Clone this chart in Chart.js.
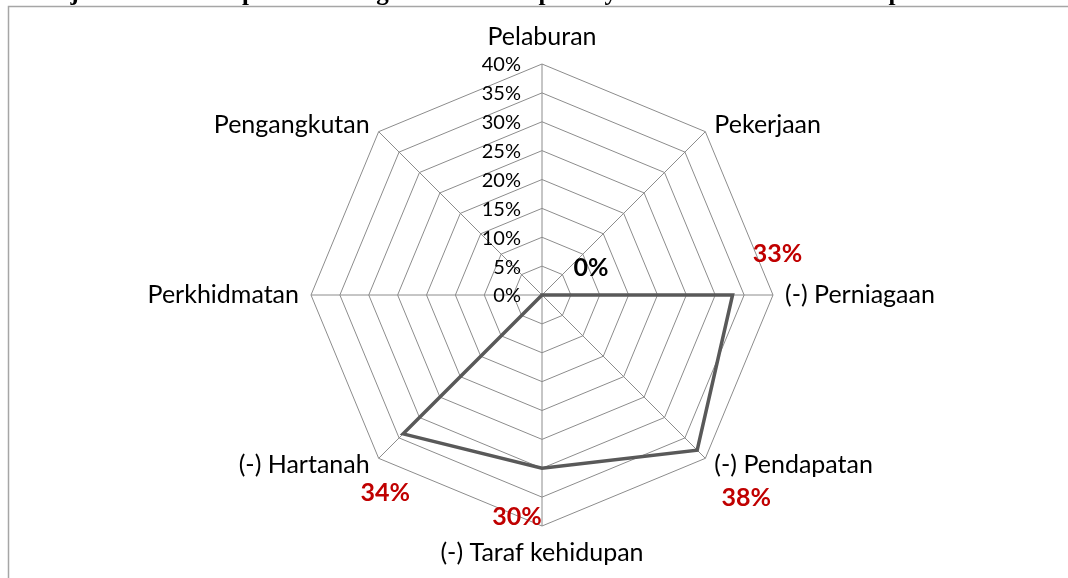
<!DOCTYPE html>
<html>
<head>
<meta charset="utf-8">
<script src="https://cdn.jsdelivr.net/npm/chart.js@4.4.1/dist/chart.umd.min.js"></script>
<style>
  html, body { margin: 0; padding: 0; background: #ffffff; }
  #wrap { position: relative; width: 1068px; height: 578px; overflow: hidden; }
  canvas { display: block; }
</style>
</head>
<body>
<div id="wrap"><canvas id="c" width="1068" height="578"></canvas></div>
<script>
// ---- data ----
const categories = ['Pelaburan', 'Pekerjaan', '(-) Perniagaan', '(-) Pendapatan', '(-) Taraf kehidupan', '(-) Hartanah', 'Perkhidmatan', 'Pengangkutan'];
const values = [0, 0, 33, 38, 30, 34, 0, 0];
const tickValues = [0, 5, 10, 15, 20, 25, 30, 35, 40];
const tickLabels = ['0%', '5%', '10%', '15%', '20%', '25%', '30%', '35%', '40%'];
const shownLabels = [null, '0%', '33%', '38%', '30%', '34%', null, null];
const titleText = 'Rajah 5: Kesan Impak Pembangunan Terhadap Masyarakat dan Komuniti Responden';

// ---- drawing helpers (styles / positions) ----
const FONT = 'Lato, "Open Sans", sans-serif';
const labelColors = [null, '#000000', '#c00000', '#c00000', '#c00000', '#c00000', null, null];
// pixel offsets of value labels relative to their data point
const labelOffsets = [null, [49, -27], [45, -41], [49, 48], [-25, 49], [-18, 59], null, null];

const overlay = {
  id: 'overlay',
  afterDraw(chart) {
    const ctx = chart.ctx;
    const s = chart.scales.r;
    ctx.save();
    // clipped title
    ctx.fillStyle = '#000';
    ctx.font = 'bold 25px "Liberation Serif", "DejaVu Serif", serif';
    ctx.textAlign = 'left';
    ctx.textBaseline = 'alphabetic';
    ctx.fillText(titleText, 40, 0);
    // frame (top and left border)
    ctx.fillStyle = '#fff';
    ctx.fillRect(0, 7, 1068, 2);
    ctx.strokeStyle = '#a6a6a6';
    ctx.lineWidth = 1.5;
    ctx.beginPath();
    ctx.moveTo(8.5, 578); ctx.lineTo(8.5, 6.5); ctx.lineTo(1068, 6.5);
    ctx.stroke();

    // tick labels on the left of the vertical axis
    ctx.font = '20px ' + FONT;
    ctx.textAlign = 'right';
    ctx.textBaseline = 'middle';
    ctx.fillStyle = '#000';
    tickValues.forEach((v, i) => {
      const d = s.getDistanceFromCenterForValue(v);
      ctx.fillText(tickLabels[i], s.xCenter - 21, s.yCenter - d + 1);
    });

    // category labels
    ctx.font = '25px ' + FONT;
    categories.forEach((c, i) => {
      const p = s.getPointPosition(i, s.drawingArea);
      const ang = p.angle; // radians, 0 = right
      const cx = Math.cos(ang), sy = Math.sin(ang);
      let x = p.x, y = p.y, align = 'center';
      if (Math.abs(cx) < 0.1) {
        y += sy < 0 ? -27 : 27;
      } else if (Math.abs(sy) < 0.1) {
        align = cx > 0 ? 'left' : 'right';
        x += cx > 0 ? 12 : -12;
      } else {
        align = cx > 0 ? 'left' : 'right';
        x += cx > 0 ? 9 : -9;
        y += sy < 0 ? -7 : 7;
      }
      ctx.textAlign = align;
      ctx.textBaseline = 'middle';
      ctx.fillText(c, x, y);
    });

    // value labels
    ctx.font = 'bold 25px ' + FONT;
    ctx.textAlign = 'center';
    ctx.textBaseline = 'middle';
    shownLabels.forEach((t, i) => {
      if (!t) return;
      const p = s.getPointPosition(i, s.getDistanceFromCenterForValue(values[i]));
      ctx.fillStyle = labelColors[i];
      ctx.fillText(t, p.x + labelOffsets[i][0], p.y + labelOffsets[i][1]);
    });
    ctx.restore();
  }
};

new Chart(document.getElementById('c'), {
  type: 'radar',
  data: {
    labels: categories,
    datasets: [{
      data: values,
      borderColor: '#595959',
      borderWidth: 3.5,
      fill: false,
      pointRadius: 0,
      pointHoverRadius: 0,
      tension: 0
    }]
  },
  options: {
    responsive: false,
    animation: false,
    devicePixelRatio: 1,
    layout: { padding: { top: 64, bottom: 52, left: 100, right: 84 } },
    plugins: { legend: { display: false }, tooltip: { enabled: false } },
    elements: { line: { borderJoinStyle: 'miter' } },
    scales: {
      r: {
        min: 0,
        max: 40,
        ticks: { display: false, stepSize: 5 },
        grid: { color: '#8c8c8c', lineWidth: 1, circular: false },
        angleLines: { color: '#8c8c8c', lineWidth: 1 },
        pointLabels: { display: false }
      }
    }
  },
  plugins: [overlay]
});
</script>
</body>
</html>
